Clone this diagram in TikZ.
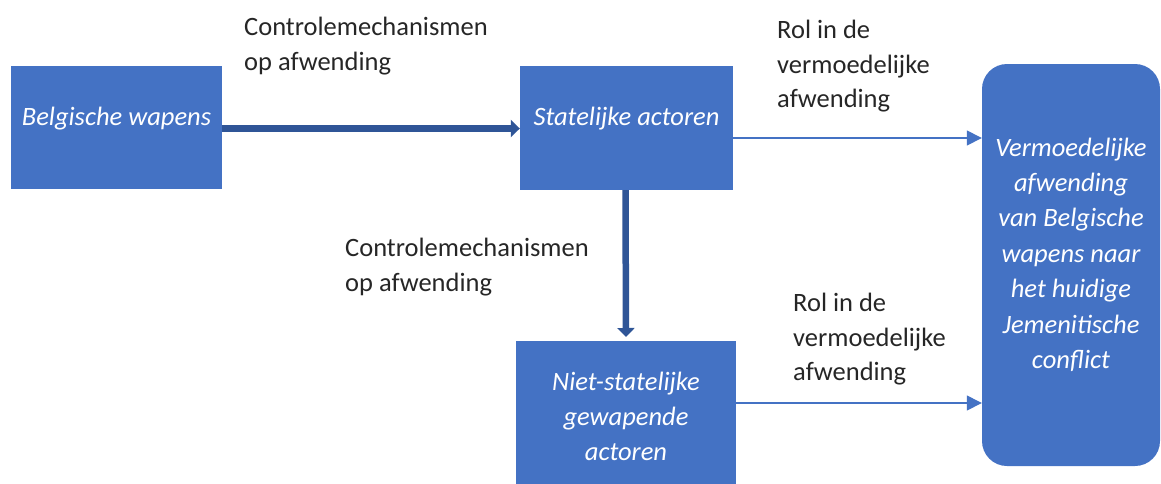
\documentclass[tikz,border=0pt]{standalone}
\usepackage{fontspec}
\setmainfont{Carlito}
\usetikzlibrary{arrows.meta}
\definecolor{boxblue}{HTML}{4472C4}
\definecolor{darkarrow}{HTML}{2F5597}
\definecolor{labeltext}{HTML}{262626}
\tikzset{
  bluebox/.style={fill=boxblue, draw=none, inner sep=0pt, text=white, align=center,
    font=\fontsize{26.5}{35}\selectfont\itshape},
  onelinebox/.style={bluebox, text height=18pt, text depth=23pt},
  roundbox/.style={bluebox, rounded corners=25pt, font=\fontsize{26.5}{35.4}\selectfont\itshape},
  lbl/.style={anchor=north west, inner sep=0pt, align=left, text=labeltext,
    font=\fontsize{26.5}{34.5}\selectfont},
  thickarrow/.style={draw=darkarrow, line width=6.5pt, -{Triangle[length=9pt,width=17pt]}},
  thinarrow/.style={draw=boxblue, line width=1.4pt, -{Triangle[length=15pt,width=15pt]}}
}
\begin{document}
\begin{tikzpicture}[x=1pt,y=-1pt]
\useasboundingbox (0,0) rectangle (1161,483);
\clip (0,0) rectangle (1161,483);
\node[onelinebox, minimum width=211pt, minimum height=123pt] (bw) at (116.5,127.5) {Belgische wapens};
\node[onelinebox, minimum width=213pt, minimum height=124pt] (sa) at (626.5,128) {Statelijke actoren};
\node[bluebox, minimum width=220pt, minimum height=150pt] (ns) at (626,416) {Niet-statelijke\\gewapende\\actoren};
\node[roundbox, minimum width=178pt, minimum height=402pt, text depth=24pt] (rb) at (1071,265) {Vermoedelijke\\afwending\\van Belgische\\wapens naar\\het huidige\\Jemenitische\\conflict};
\node[lbl] (l1) at (244,17) {Controlemechanismen\\op afwending};
\node[lbl] (l2) at (777,20) {Rol in de\\vermoedelijke\\afwending};
\node[lbl] (l3) at (345,238) {Controlemechanismen\\op afwending};
\node[lbl] (l4) at (793,293) {Rol in de\\vermoedelijke\\afwending};
\draw[thickarrow] (bw.east |- 0,128.5) -- (sa.west |- 0,128.5);
\draw[thickarrow, shorten >=6pt] (sa.south -| 625.5,0) -- (626,343);
\draw[thinarrow] (sa.east |- 0,138) -- (rb.west |- 0,138);
\draw[thinarrow] (ns.east |- 0,403) -- (rb.west |- 0,403);
\end{tikzpicture}
\end{document}
